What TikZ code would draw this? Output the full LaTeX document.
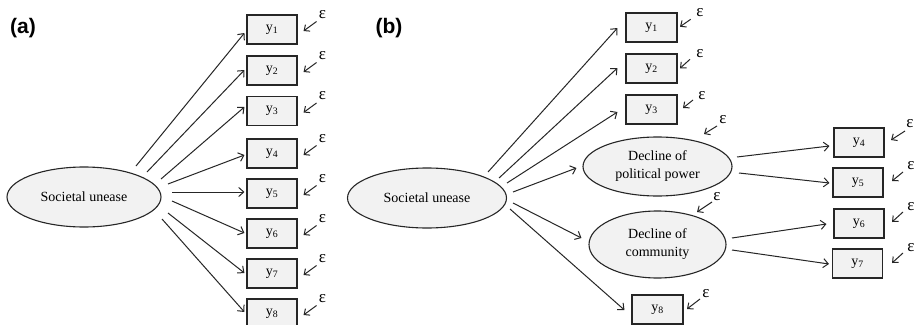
\documentclass[tikz,border=0pt]{standalone}
\usepackage{fontspec}
\setmainfont{Liberation Serif}
\newfontfamily\labfont{Liberation Sans}
\usetikzlibrary{arrows.meta,shapes.geometric,calc}
\definecolor{boxfill}{HTML}{F2F2F2}
\definecolor{lin}{HTML}{262626}
\begin{document}
\begin{tikzpicture}[x=1pt,y=-1pt,
  ybox/.style={draw=lin, fill=boxfill, line width=1.1pt, minimum width=50pt, minimum height=29pt, inner sep=0pt, font=\fontsize{14}{16}\selectfont},
  latent/.style={ellipse, draw=lin, fill=boxfill, line width=1.1pt, inner sep=0pt, align=center, font=\fontsize{14}{18}\selectfont},
  arr/.style={-{Straight Barb[length=5pt,width=9pt]}, line width=1pt, draw=lin},
  earr/.style={-{Straight Barb[length=4.5pt,width=8pt]}, line width=1pt, draw=lin},
  eps/.style={inner sep=0pt, font=\fontsize{17}{17}\selectfont},
  panel/.style={font=\labfont\bfseries\fontsize{21}{21}\selectfont, inner sep=0pt}
]
\clip (0,0) rectangle (915,324);
\fill[white] (0,0) rectangle (915,324);

% ---------- panel (a) ----------
\node[panel] (pa) at (23,28) {(a)};
\node[latent, minimum width=154pt, minimum height=60pt] (ela) at (84,197) {Societal unease};
\foreach \i/\yy/\sx/\sy/\dy in {1/29.5/136/166/3.5, 2/70.5/147/172/-0.5, 3/111/161/179/-4, 4/153.5/168/184/1.5, 5/193.5/172/192/-1.5, 6/233.5/172/201/-0.5, 7/273.5/168/213/-0.5, 8/313.5/162/219/-1.5}{
  \node[ybox] (a\i) at (272,\yy) {y\textsubscript{\i}};
  \coordinate (as\i) at (\sx,\sy);
  \draw[arr] (as\i) -- ([shift={(-2,\dy)}]a\i.west);
  \coordinate (aet\i) at ($(a\i.east)+(19,-8)$);
  \coordinate (aeh\i) at ($(a\i.east)+(6,1.5)$);
  \node[eps] (ae\i) at ($(a\i.east)+(25,-15)$) {ε};
  \draw[earr] (aet\i) -- (aeh\i);
}

% ---------- panel (b) ----------
\node[panel] (pb) at (389,28) {(b)};
\node[latent, minimum width=159pt, minimum height=60pt] (elb) at (427,198) {Societal unease};
\node[latent, minimum width=149pt, minimum height=59pt] (pol) at (657.5,166.5) {Decline of\\political power};
\node[latent, minimum width=137pt, minimum height=67pt] (com) at (657.5,244.5) {Decline of\\community};

\node[ybox, minimum width=51pt] (b1) at (651.5,27.5) {y\textsubscript{1}};
\node[ybox, minimum width=51pt] (b2) at (651.5,68.5) {y\textsubscript{2}};
\node[ybox, minimum width=51pt] (b3) at (651.5,109.5) {y\textsubscript{3}};
\node[ybox, minimum width=51pt] (b8) at (657.5,309.5) {y\textsubscript{8}};
\node[ybox] (b4) at (859,142.5) {y\textsubscript{4}};
\node[ybox] (b5) at (858,182.5) {y\textsubscript{5}};
\node[ybox] (b6) at (859,223.5) {y\textsubscript{6}};
\node[ybox] (b7) at (857.5,263.5) {y\textsubscript{7}};

\coordinate (bs1) at (488,172);
\coordinate (bs2) at (499,178);
\coordinate (bs3) at (507,183);
\coordinate (bsp) at (513,192);
\coordinate (bsc) at (513,203);
\coordinate (bs8) at (510,209);
\draw[arr] (bs1) -- ([shift={(-8,0.5)}]b1.west);
\draw[arr] (bs2) -- ([shift={(-8,-0.5)}]b2.west);
\draw[arr] (bs3) -- ([shift={(-8,2.5)}]b3.west);
\draw[arr] (bsp) -- ([shift={(-6,1.5)}]pol.west);
\draw[arr] (bsc) -- ([shift={(-7,-6.5)}]com.west);
\draw[arr] (bs8) -- ([shift={(-7,0.5)}]b8.west);

\coordinate (ps4) at (737,157);
\coordinate (ps5) at (739,173);
\coordinate (cs6) at (732,238);
\coordinate (cs7) at (732,250);
\draw[arr] (ps4) -- ([shift={(-4,3.5)}]b4.west);
\draw[arr] (ps5) -- ([shift={(-3,0.5)}]b5.west);
\draw[arr] (cs6) -- ([shift={(-7,0.5)}]b6.west);
\draw[arr] (cs7) -- ([shift={(-3,0.5)}]b7.west);

% error terms (b)
\foreach \n/\tx/\ty/\hx/\hy/\ex/\ey in {
  1/690.7/19.3/680/26.7/700/13,
  2/690/59.3/680/68.3/700/54,
  3/693/100/683/108/702/96,
  p/717/126/704/134/723/120,
  c/712/202/697/212/717/197,
  8/700/299/687/309/706/294,
  4/905/131/891/140/910/124,
  5/903/172/892/181/911/166,
  6/903/212/892/222/911/207,
  7/903/253/892/263/911/248}{
  \coordinate (bet\n) at (\tx,\ty);
  \coordinate (beh\n) at (\hx,\hy);
  \node[eps] (be\n) at (\ex,\ey) {ε};
  \draw[earr] (bet\n) -- (beh\n);
}
\end{tikzpicture}
\end{document}
